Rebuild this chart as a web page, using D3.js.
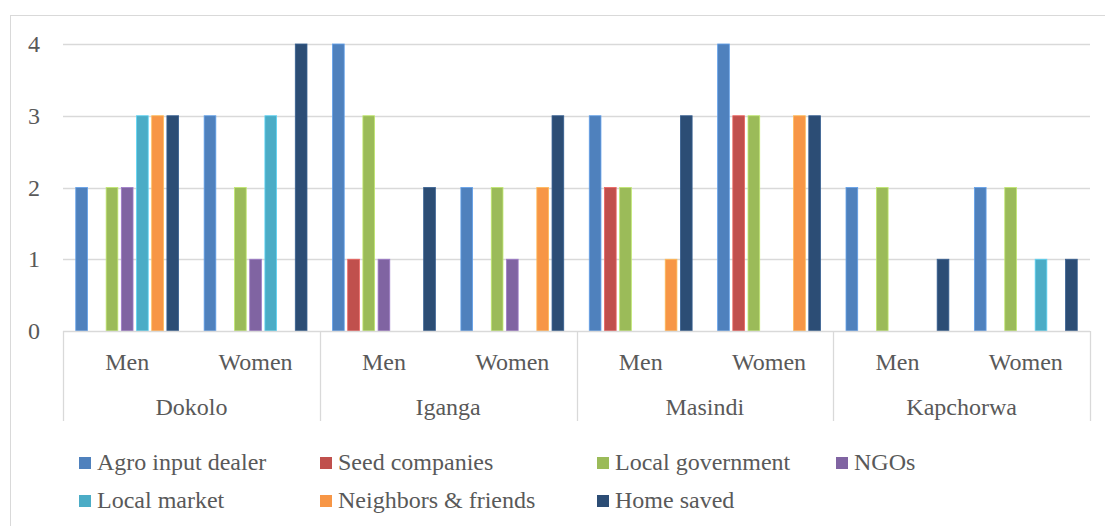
<!DOCTYPE html>
<html>
<head>
<meta charset="utf-8">
<script src="https://cdn.jsdelivr.net/npm/d3@7"></script>
<style>
  html, body { margin: 0; padding: 0; background: #fff; }
  svg { display: block; }
  text { font-family: "Liberation Serif", "Times New Roman", serif; fill: #595959; }
</style>
</head>
<body>
<svg id="chart" width="1105" height="526"></svg>
<script>
// Districts and the sex split shown under each
const districts = ["Dokolo", "Iganga", "Masindi", "Kapchorwa"];
const sexes = ["Men", "Women"];

// Seed source series
const series = ["Agro input dealer", "Seed companies", "Local government", "NGOs",
                "Local market", "Neighbors & friends", "Home saved"];
const colors = ["#4F81BD", "#C0504D", "#9BBB59", "#8064A2", "#4BACC6", "#F79646", "#2C4D75"];

// Values per series, ordered Dokolo M/W, Iganga M/W, Masindi M/W, Kapchorwa M/W
const agroInputDealer  = [2, 3, 4, 2, 3, 4, 2, 2];
const seedCompanies    = [0, 0, 1, 0, 2, 3, 0, 0];
const localGovernment  = [2, 2, 3, 2, 2, 3, 2, 2];
const ngos             = [2, 1, 1, 1, 0, 0, 0, 0];
const localMarket      = [3, 3, 0, 0, 0, 0, 0, 1];
const neighborsFriends = [3, 0, 0, 2, 1, 3, 0, 0];
const homeSaved        = [3, 4, 2, 3, 3, 3, 1, 1];
const seriesValues = [agroInputDealer, seedCompanies, localGovernment, ngos,
                      localMarket, neighborsFriends, homeSaved];

const yTicks = [0, 1, 2, 3, 4];

const svg = d3.select("#chart");
const plot = { left: 63, right: 1090, top: 44, bottom: 331 };
const gridColor = "#d9d9d9";
const fontSize = "24px";

// Outer chart frame
svg.append("rect")
  .attr("x", 10.5).attr("y", 15.5)
  .attr("width", 1120).attr("height", 600)
  .attr("fill", "none").attr("stroke", gridColor).attr("stroke-width", 1);

const groups = [];
districts.forEach(d => sexes.forEach(s => groups.push(d + "|" + s)));

const x0 = d3.scaleBand().domain(groups).range([plot.left, plot.right]).padding(0);
const x1 = d3.scaleBand().domain(series)
  .range([0, x0.bandwidth()]).paddingInner(0.23).paddingOuter(0.84);
const y = d3.scaleLinear().domain([0, 4]).range([plot.bottom, plot.top]);

// Horizontal gridlines
svg.append("g").selectAll("line").data(yTicks.filter(t => t > 0)).join("line")
  .attr("x1", plot.left).attr("x2", plot.right)
  .attr("y1", d => Math.round(y(d)) + 0.5).attr("y2", d => Math.round(y(d)) + 0.5)
  .attr("stroke", gridColor).attr("stroke-width", 1.3);

// Y axis labels
const yAxis = d3.axisLeft(y).tickValues(yTicks).tickSize(0).tickPadding(0).tickFormat(d3.format("d"));
const yg = svg.append("g").attr("transform", `translate(40,0)`).call(yAxis);
yg.select(".domain").remove();
yg.selectAll("text").style("font-size", fontSize).attr("fill", "#595959")
  .style("font-family", "'Liberation Serif', serif");

// Bars
const barData = [];
groups.forEach((g, gi) => {
  series.forEach((s, si) => {
    barData.push({ group: g, series: s, value: seriesValues[si][gi], color: colors[si] });
  });
});
svg.append("g").selectAll("rect").data(barData.filter(d => d.value > 0)).join("rect")
  .attr("x", d => x0(d.group) + x1(d.series))
  .attr("width", x1.bandwidth())
  .attr("y", d => y(d.value))
  .attr("height", d => y(0) - y(d.value))
  .attr("fill", d => d.color)
  .attr("stroke", d => d3.color(d.color).brighter(0.6))
  .attr("stroke-width", 0.8);

// Category axis baseline
svg.append("line")
  .attr("x1", plot.left).attr("x2", plot.right)
  .attr("y1", plot.bottom + 0.5).attr("y2", plot.bottom + 0.5)
  .attr("stroke", gridColor).attr("stroke-width", 1.3);

// District separators in the two-level category axis
const sepX = [plot.left];
districts.forEach(d => sepX.push(x0(d + "|Women") + x0.bandwidth()));
svg.append("g").selectAll("line").data(sepX).join("line")
  .attr("x1", d => Math.round(d) + 0.5).attr("x2", d => Math.round(d) + 0.5)
  .attr("y1", plot.bottom).attr("y2", 421)
  .attr("stroke", gridColor).attr("stroke-width", 1.3);

// Men / Women labels
svg.append("g").selectAll("text").data(groups).join("text")
  .attr("x", d => x0(d) + x0.bandwidth() / 2)
  .attr("y", 370)
  .attr("text-anchor", "middle")
  .style("font-size", fontSize)
  .text(d => d.split("|")[1]);

// District labels
svg.append("g").selectAll("text").data(districts).join("text")
  .attr("x", d => x0(d + "|Men") + x0.bandwidth())
  .attr("y", 415)
  .attr("text-anchor", "middle")
  .style("font-size", fontSize)
  .text(d => d);

// Legend
const legendCols = [79, 320, 597, 836];
const legendRows = [470, 508];
const legend = svg.append("g").selectAll("g").data(series).join("g")
  .attr("transform", (d, i) => {
    const row = i < 4 ? 0 : 1;
    const col = i < 4 ? i : i - 4;
    return `translate(${legendCols[col]},${legendRows[row]})`;
  });
legend.append("rect")
  .attr("x", 0).attr("y", -13).attr("width", 12).attr("height", 12)
  .attr("fill", (d, i) => colors[i]);
legend.append("text")
  .attr("x", 18).attr("y", 0)
  .style("font-size", fontSize)
  .text(d => d);
</script>
</body>
</html>
